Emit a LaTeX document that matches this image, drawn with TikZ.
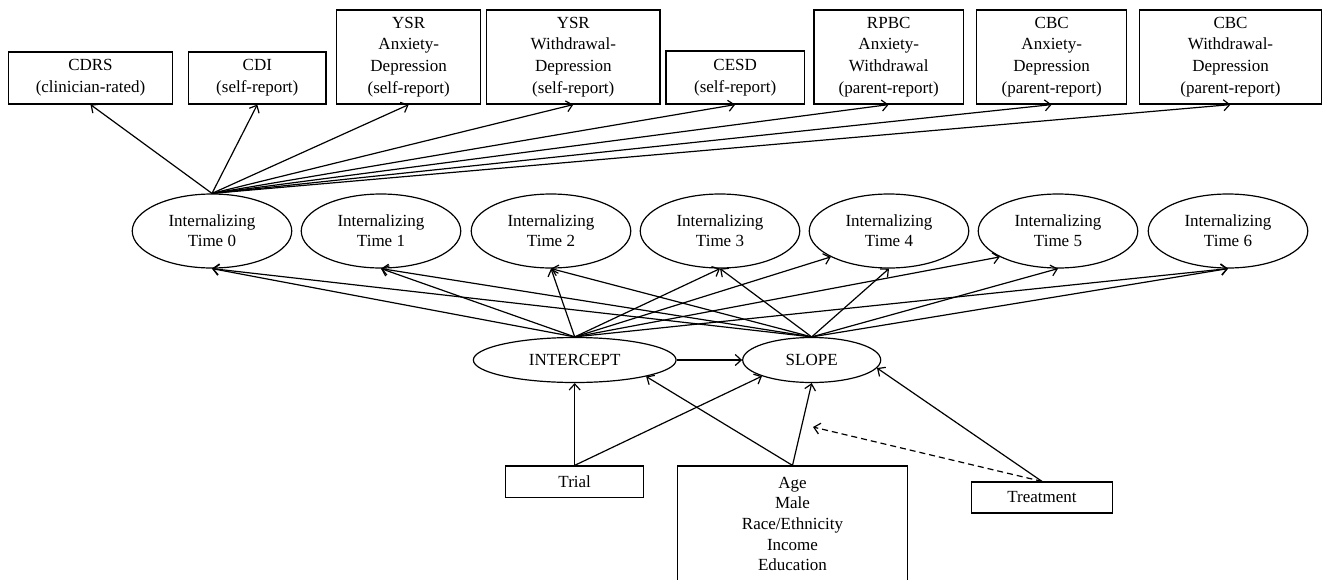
\documentclass[tikz,border=0pt]{standalone}
\usepackage{fontspec}
\setmainfont{Liberation Serif}
\usetikzlibrary{shapes.geometric,arrows.meta}
\tikzset{
  box/.style={draw, line width=1.2pt, rectangle, inner sep=0pt, align=center,
    font=\fontsize{17}{21.7}\selectfont},
  latent/.style={draw, line width=1.2pt, ellipse, inner sep=0pt, align=center,
    minimum width=159.5pt, minimum height=74pt, font=\fontsize{17}{20}\selectfont},
  growth/.style={draw, line width=1.2pt, ellipse, inner sep=0pt, align=center,
    minimum height=45pt, font=\fontsize{17}{20}\selectfont},
  arr/.style={line width=1.2pt, -{Straight Barb[length=6pt,width=11pt,line width=1.2pt]}},
  dasharr/.style={arr, dash pattern=on 6pt off 4pt}
}
\begin{document}
\begin{tikzpicture}[x=1pt,y=-1pt]
\useasboundingbox (0,0) rectangle (1323,579);
% top indicator boxes
\node[box, minimum width=164.4pt, minimum height=52pt] (cdrs) at (90.5,78) {CDRS\\(clinician-rated)};
\node[box, minimum width=137.3pt, minimum height=52pt] (cdi) at (257.3,78) {CDI\\(self-report)};
\node[box, minimum width=144pt, minimum height=94pt] (ysrad) at (408.7,57) {YSR\\Anxiety-\\Depression\\(self-report)};
\node[box, minimum width=173.3pt, minimum height=94pt] (ysrwd) at (573.3,57) {YSR\\Withdrawal-\\Depression\\(self-report)};
\node[box, minimum width=138.3pt, minimum height=53pt] (cesd) at (735.2,77.5) {CESD\\(self-report)};
\node[box, minimum width=149.3pt, minimum height=94pt] (rpbc) at (888.7,57) {RPBC\\Anxiety-\\Withdrawal\\(parent-report)};
\node[box, minimum width=150pt, minimum height=94pt] (cbcad) at (1051.7,57) {CBC\\Anxiety-\\Depression\\(parent-report)};
\node[box, minimum width=182.4pt, minimum height=94pt] (cbcwd) at (1230.5,57) {CBC\\Withdrawal-\\Depression\\(parent-report)};
% latent time ellipses
\node[latent] (t0) at (212,231) {Internalizing\\Time 0};
\node[latent] (t1) at (381,231) {Internalizing\\Time 1};
\node[latent] (t2) at (551,231) {Internalizing\\Time 2};
\node[latent] (t3) at (720,231) {Internalizing\\Time 3};
\node[latent] (t4) at (889,231) {Internalizing\\Time 4};
\node[latent] (t5) at (1058,231) {Internalizing\\Time 5};
\node[latent] (t6) at (1228,231) {Internalizing\\Time 6};
% growth factors
\node[growth, minimum width=202.7pt] (int) at (574.7,360) {INTERCEPT};
\node[growth, minimum width=138pt] (slope) at (811.7,360) {SLOPE};
% covariates
\node[box, minimum width=138.3pt, minimum height=31.7pt] (trial) at (574.7,481.8) {Trial};
\node[box, minimum width=230.4pt, minimum height=116pt, font=\fontsize{17}{20.7}\selectfont] (demo) at (792.5,524) {Age\\Male\\Race/Ethnicity\\Income\\Education};
\node[box, minimum width=141pt, minimum height=31pt] (treat) at (1042,497.5) {Treatment};
\coordinate (mod) at (813,427);
% measurement arrows
\foreach \b in {cdrs,cdi,ysrad,ysrwd,cesd,rpbc,cbcad,cbcwd}
  \draw[arr] (t0.north) -- (\b.south);
% growth arrows
\foreach \t in {t0,t1,t2,t3,t6}
  \draw[arr] (int.north) -- (\t.south);
\draw[arr] (int.north) -- (t4.204);
\draw[arr] (int.north) -- (t5.204);
\foreach \t in {t0,t1,t2,t3,t4,t5,t6}
  \draw[arr] (slope.north) -- (\t.south);
\draw[arr] (int.east) -- (slope.west);
% covariate arrows
\draw[arr] (trial.north) -- (int.south);
\draw[arr] (trial.north) -- (slope.198);
\draw[arr] (demo.north) -- (int.-13);
\draw[arr] (demo.north) -- (slope.south);
\draw[arr] (treat.north) -- (slope.-7);
\draw[dasharr] (treat.north) -- (mod);
\end{tikzpicture}
\end{document}
